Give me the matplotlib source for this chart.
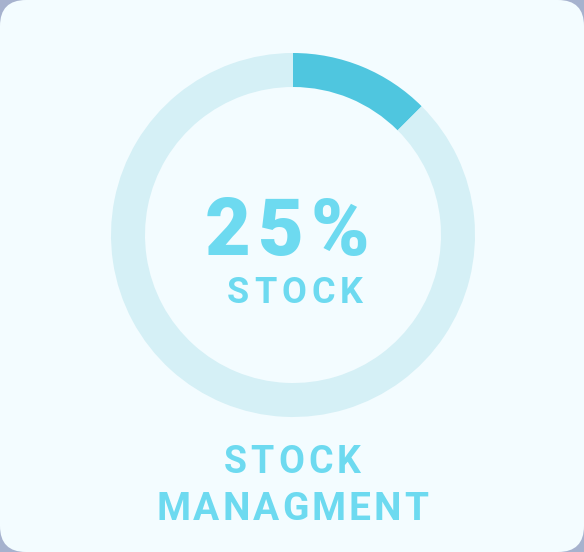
import matplotlib
matplotlib.use('Agg')
from matplotlib import pyplot as plt
from matplotlib.patches import FancyBboxPatch

# chart values
stock_value = 25          # shown in the centre
scale_max = 200           # ring is drawn against this total
centre_label = 'STOCK'
title_lines = ['STOCK', 'MANAGMENT']

outside_col = '#a6b2ce'
card_col = '#f3fcff'
track_col = '#d5f0f6'
fill_col = '#4fc6df'
text_col = '#6ddaf0'

W, H = 584, 552
fig = plt.figure(figsize=(W / 100, H / 100), dpi=100, facecolor=outside_col)
ax = fig.add_axes([0, 0, 1, 1])
ax.set_facecolor('none')

card = FancyBboxPatch((0, 0), W, H, boxstyle='round,pad=0,rounding_size=26',
                      facecolor=card_col, edgecolor='none', zorder=0)
ax.add_patch(card)

ax.pie([stock_value, scale_max - stock_value], colors=[fill_col, track_col],
       startangle=90, counterclock=False, radius=182, center=(293, 317),
       wedgeprops=dict(width=34, edgecolor='none', antialiased=True), frame=True)

ax.set_xlim(0, W)
ax.set_ylim(0, H)
ax.set_aspect('auto')
ax.axis('off')

renderer = fig.canvas.get_renderer()


def spaced_text(x, y, s, size, spacing, weight='bold'):
    # draw a string letter by letter with extra tracking, centred on x
    widths = []
    for ch in s:
        t = ax.text(0, 0, ch, fontsize=size, fontweight=weight, family='Roboto')
        bb = t.get_window_extent(renderer=renderer)
        widths.append(bb.width)
        t.remove()
    total = sum(widths) + spacing * (len(s) - 1)
    cx = x - total / 2
    for ch, w in zip(s, widths):
        ax.text(cx, y, ch, fontsize=size, fontweight=weight, family='Roboto',
                color=text_col, ha='left', va='baseline')
        cx += w + spacing


spaced_text(287, 552 - 255, '%d%%' % stock_value, 57, 7, weight='heavy')
spaced_text(295, 552 - 303, centre_label, 26, 5)
spaced_text(292, 552 - 473, title_lines[0], 27, 4)
spaced_text(292, 552 - 520, title_lines[1], 28, 3)

fig.savefig('out.png', dpi=100, facecolor=outside_col)
